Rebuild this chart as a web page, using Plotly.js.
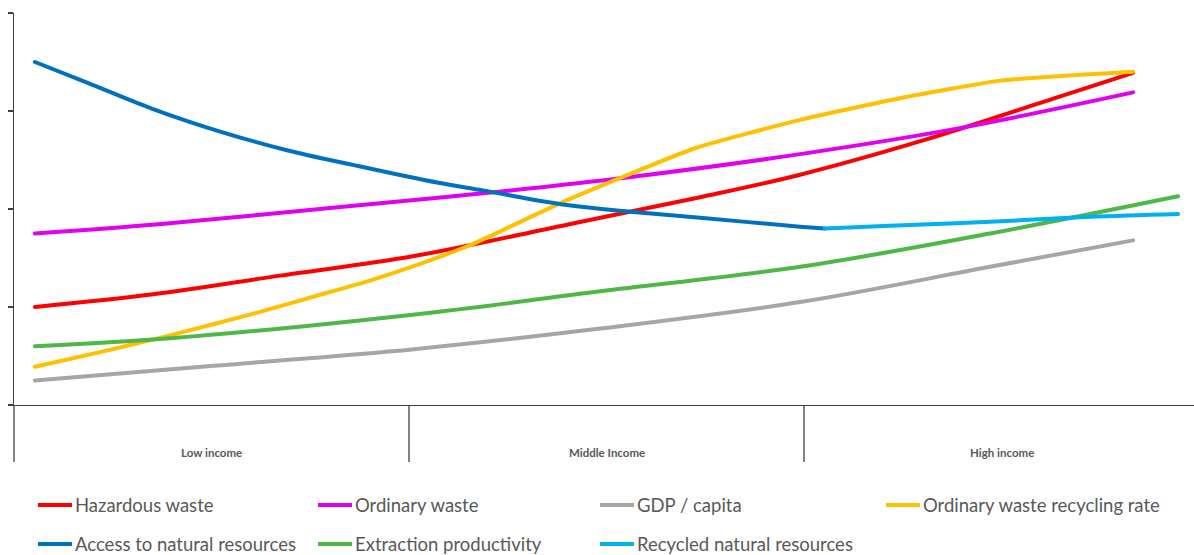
<!DOCTYPE html>
<html>
<head>
<meta charset="utf-8">
<script src="https://cdn.plot.ly/plotly-3.0.1.min.js"></script>
<style>
  html, body { margin: 0; padding: 0; background: #ffffff; }
  #chart { width: 1194px; height: 555px; }
  .js-line { stroke-linecap: round; stroke-linejoin: round; }
</style>
</head>
<body>
<div id="chart"></div>
<script>
// Income groups along the horizontal axis (each group spans 100 units)
const incomeGroups = ["Low income", "Middle Income", "High income"];
const groupCenters = [50, 150, 250];
const groupBoundaries = [100, 200];

// Hazardous waste
const hazardousX = [5.3, 35.2, 67.3, 101.3, 140.0, 173.7, 199.0, 230.1, 264.1, 283.3];
const hazardousY = [1.00, 1.13, 1.32, 1.52, 1.84, 2.12, 2.35, 2.70, 3.14, 3.39];

// Ordinary waste
const ordinaryX = [5.3, 38.0, 80.0, 118.7, 156.7, 199.0, 238.7, 283.3];
const ordinaryY = [1.75, 1.85, 2.01, 2.16, 2.33, 2.56, 2.82, 3.19];

// GDP / capita
const gdpX = [5.3, 50.6, 101.3, 148.4, 199.0, 247.1, 283.3];
const gdpY = [0.25, 0.40, 0.57, 0.78, 1.05, 1.41, 1.68];

// Ordinary waste recycling rate
const recyclingX = [5.3, 21.8, 39.5, 62.3, 76.2, 90.1, 102.8, 115.4, 140.0, 172.4, 199.0, 224.3, 249.6, 283.3];
const recyclingY = [0.39, 0.54, 0.71, 0.95, 1.11, 1.27, 1.44, 1.63, 2.09, 2.62, 2.91, 3.13, 3.31, 3.40];

// Access to natural resources
const accessX = [5.3, 18.5, 35.2, 52.2, 69.1, 85.8, 107.1, 118.7, 140.0, 156.7, 173.7, 199.0, 205.3];
const accessY = [3.50, 3.29, 3.02, 2.79, 2.60, 2.45, 2.27, 2.19, 2.04, 1.97, 1.91, 1.82, 1.80];

// Extraction productivity
const extractionX = [5.3, 39.5, 107.1, 148.4, 199.0, 247.1, 294.7];
const extractionY = [0.60, 0.68, 0.95, 1.16, 1.41, 1.75, 2.13];

// Recycled natural resources
const recycledX = [205.3, 221.8, 247.1, 272.4, 294.7];
const recycledY = [1.80, 1.83, 1.87, 1.92, 1.95];

const seriesNames = [
  "Hazardous waste", "Ordinary waste", "GDP / capita", "Ordinary waste recycling rate",
  "Access to natural resources", "Extraction productivity", "Recycled natural resources"
];
const seriesColors = ["#ff0000", "#e100ef", "#a6a6a6", "#ffc000", "#0070c0", "#4db848", "#00b0f0"];
const seriesData = [
  [hazardousX, hazardousY, 1],
  [ordinaryX, ordinaryY, 1],
  [gdpX, gdpY, 1],
  [recyclingX, recyclingY, 0.45],
  [accessX, accessY, 1],
  [extractionX, extractionY, 1],
  [recycledX, recycledY, 1]
];

const traces = seriesData.map(([xs, ys, smooth], i) => ({
  type: "scatter",
  mode: "lines",
  name: seriesNames[i],
  x: xs,
  y: ys,
  line: { color: seriesColors[i], width: 4, shape: "spline", smoothing: smooth },
  hoverinfo: "skip",
  showlegend: false
}));

// Geometry of the plotting area
const W = 1194, H = 555;
const marginL = 14, marginR = 0, marginT = 13, marginB = 150;
const plotW = W - marginL - marginR;
const plotH = H - marginT - marginB;
const xMax = plotW / 3.95;          // keeps 100 units per income group
const axisColor = "#404040";
const textColor = "#595959";

// pixel helpers for items drawn outside the plotting area
const px2paperX = px => (px - marginL) / plotW;
const px2paperY = py => (H - marginB - py) / plotH;

const shapes = [];
const annotations = [];

// y-axis line extends down through the group-label band
shapes.push({
  type: "line", xref: "paper", yref: "paper",
  x0: 0, x1: 0, y0: px2paperY(462), y1: 0,
  line: { color: axisColor, width: 1.3 }
});
// separators between income groups
groupBoundaries.forEach(b => {
  shapes.push({
    type: "line", xref: "paper", yref: "paper",
    x0: b / xMax, x1: b / xMax, y0: px2paperY(462), y1: 0,
    line: { color: axisColor, width: 1.3 }
  });
});
// income group labels
incomeGroups.forEach((g, i) => {
  annotations.push({
    text: "<b>" + g + "</b>", xref: "x", yref: "paper",
    x: groupCenters[i], y: px2paperY(453),
    xanchor: "center", yanchor: "middle", showarrow: false,
    font: { family: "Lato, 'Open Sans', sans-serif", size: 11.5, color: textColor }
  });
});

// legend, four columns by two rows
const legendCols = [38, 318, 600, 886];
const legendRows = [505, 544];
const swatchLen = 34;
seriesNames.forEach((name, i) => {
  const cx = legendCols[i % 4];
  const cy = legendRows[Math.floor(i / 4)];
  shapes.push({
    type: "line", xref: "paper", yref: "paper",
    x0: px2paperX(cx), x1: px2paperX(cx + swatchLen),
    y0: px2paperY(cy), y1: px2paperY(cy),
    line: { color: seriesColors[i], width: 4 }
  });
  annotations.push({
    text: name, xref: "paper", yref: "paper",
    x: px2paperX(cx + swatchLen + 1), y: px2paperY(cy),
    xanchor: "left", yanchor: "middle", showarrow: false,
    font: { family: "Lato, 'Open Sans', sans-serif", size: 18.5, color: textColor }
  });
});

const layout = {
  width: W, height: H,
  margin: { l: marginL, r: marginR, t: marginT, b: marginB, pad: 0 },
  paper_bgcolor: "#ffffff",
  plot_bgcolor: "#ffffff",
  showlegend: false,
  xaxis: {
    range: [0, xMax], showgrid: false, zeroline: false,
    showline: true, linecolor: axisColor, linewidth: 1.3,
    showticklabels: false, ticks: "", fixedrange: true
  },
  yaxis: {
    range: [0, 4], showgrid: false, zeroline: false,
    showline: true, linecolor: axisColor, linewidth: 1.3,
    tickvals: [0, 1, 2, 3, 4], ticks: "outside", ticklen: 5,
    tickcolor: axisColor, tickwidth: 1.3,
    showticklabels: false, fixedrange: true
  },
  shapes: shapes,
  annotations: annotations
};

Plotly.newPlot("chart", traces, layout, { displayModeBar: false, staticPlot: true });
</script>
</body>
</html>
